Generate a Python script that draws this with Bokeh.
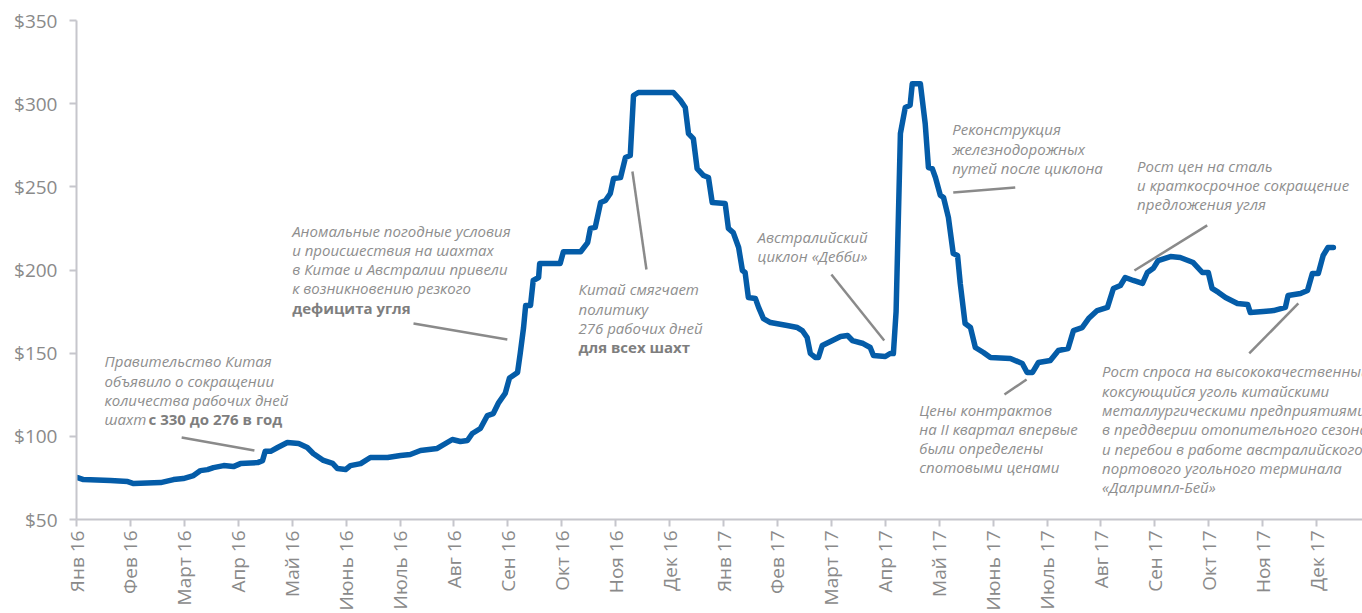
import math
from bokeh.plotting import figure
from bokeh.models import ColumnDataSource, Range1d, FixedTicker, NumeralTickFormatter
from bokeh.core.properties import value
from bokeh.embed import file_html
from bokeh.resources import INLINE

# Month tick labels (one per month, Jan 2016 .. Dec 2017)
month_labels = [
    "Янв 16", "Фев 16", "Март 16", "Апр 16", "Май 16", "Июнь 16",
    "Июль 16", "Авг 16", "Сен 16", "Окт 16", "Ноя 16", "Дек 16",
    "Янв 17", "Фев 17", "Март 17", "Апр 17", "Май 17", "Июнь 17",
    "Июль 17", "Авг 17", "Сен 17", "Окт 17", "Ноя 17", "Дек 17",
]

# Time in months since the start of January 2016
month_pos = [
    0.02, 0.13, 0.63, 0.95, 1.06, 1.56, 1.80, 1.98, 2.17, 2.30, 2.43, 2.54,
    2.73, 2.91, 3.04, 3.36, 3.45, 3.50, 3.60, 3.73, 3.91, 4.12, 4.28, 4.39,
    4.58, 4.75, 4.84, 4.99, 5.08, 5.27, 5.45, 5.77, 6.01, 6.19, 6.38, 6.69,
    6.97, 7.12, 7.25, 7.34, 7.49, 7.62, 7.73, 7.83, 7.95, 8.03, 8.18, 8.23,
    8.29, 8.33, 8.42, 8.47, 8.57, 8.59, 8.97, 9.03, 9.35, 9.48, 9.53, 9.62,
    9.72, 9.81, 9.90, 9.96, 10.09, 10.18, 10.27, 10.33, 10.42, 11.07, 11.20,
    11.29, 11.35, 11.44, 11.51, 11.63, 11.72, 11.79, 12.03, 12.09, 12.18,
    12.28, 12.35, 12.40, 12.46, 12.59, 12.65, 12.74, 12.87, 13.18, 13.37,
    13.46, 13.55, 13.61, 13.70, 13.76, 13.83, 14.02, 14.17, 14.30, 14.39,
    14.59, 14.72, 14.78, 15.00, 15.09, 15.15, 15.20, 15.28, 15.37, 15.46,
    15.50, 15.65, 15.74, 15.80, 15.87, 15.93, 16.02, 16.08, 16.17, 16.26,
    16.34, 16.39, 16.48, 16.58, 16.67, 16.82, 16.95, 17.32, 17.54, 17.63,
    17.73, 17.84, 18.06, 18.21, 18.39, 18.49, 18.65, 18.77, 18.93, 19.12,
    19.23, 19.36, 19.45, 19.60, 19.77, 19.86, 19.97, 20.06, 20.29, 20.47,
    20.71, 20.88, 20.99, 21.06, 21.18, 21.31, 21.53, 21.72, 21.77, 22.01,
    22.20, 22.42, 22.47, 22.70, 22.83, 22.92, 23.03, 23.12, 23.21, 23.31,
]

# Coking coal spot price, USD per tonne
price = [
    75.2, 74.0, 73.4, 72.8, 71.6, 72.2, 74.0, 74.6, 76.4, 79.4, 80.0, 81.2,
    82.4, 81.8, 83.6, 84.2, 85.4, 91.0, 91.0, 93.3, 96.3, 95.7, 93.3, 89.7,
    85.5, 83.7, 80.6, 80.0, 82.4, 83.6, 87.3, 87.3, 88.5, 89.1, 91.5, 92.7,
    98.1, 96.9, 97.5, 101.7, 104.7, 112.5, 113.7, 120.3, 125.8, 135.0, 138.4, 150.0,
    165.0, 178.7, 178.7, 193.7, 195.5, 203.9, 203.9, 211.0, 211.0, 216.5, 225.0, 225.6,
    240.6, 241.8, 246.0, 255.0, 255.6, 267.6, 268.8, 304.9, 306.7, 306.7, 302.0,
    297.7, 282.0, 279.0, 261.0, 256.8, 255.6, 240.6, 240.0, 225.0, 222.5,
    213.5, 199.7, 198.5, 183.5, 182.9, 177.5, 170.8, 168.4, 166.6, 165.4,
    163.6, 159.4, 149.8, 147.4, 147.4, 154.6, 157.6, 160.0, 160.6, 157.6,
    155.8, 153.4, 148.6, 148.0, 149.8, 149.8, 175.0, 282.0, 297.7, 299.0,
    312.0, 312.0, 288.0, 261.6, 261.0, 255.6, 245.0, 243.6, 231.6, 209.9,
    208.7, 191.9, 167.8, 165.4, 153.4, 150.4, 147.4, 146.8, 143.8, 138.4,
    138.4, 144.4, 145.6, 151.6, 152.8, 163.6, 165.4, 170.8, 175.6, 177.5,
    188.9, 190.7, 195.5, 193.7, 191.9, 198.5, 201.0, 205.7, 208.1, 207.5,
    204.5, 198.5, 198.5, 188.9, 186.5, 183.5, 179.9, 179.3, 174.4, 175.0,
    175.6, 177.5, 184.7, 185.9, 187.7, 197.9, 197.9, 208.7, 213.5, 213.5,
]

y_ticks = [50, 100, 150, 200, 250, 300, 350]

# Callout texts: anchor (month, price) of the first line, italic lines, bold runs
notes = [
    dict(x=0.52, y=145.0,
         lines=["Правительство Китая", "объявило о сокращении",
                "количества рабочих дней", "шахт"],
         bold=[(3, "с 330 до 276 в год", 44)]),
    dict(x=4.0, y=223.7,
         lines=["Аномальные погодные условия", "и происшествия на шахтах",
                "в Китае и Австралии привели", "к возникновению резкого"],
         bold=[(4, "дефицита угля", 0)]),
    dict(x=9.31, y=188.3,
         lines=["Китай смягчает", "политику", "276 рабочих дней"],
         bold=[(3, "для всех шахт", 0)]),
    dict(x=12.63, y=220.1,
         lines=["Австралийский", "циклон «Дебби»"], bold=[]),
    dict(x=16.24, y=284.5,
         lines=["Реконструкция", "железнодорожных", "путей после циклона"],
         bold=[]),
    dict(x=19.67, y=262.8,
         lines=["Рост цен на сталь", "и краткосрочное сокращение",
                "предложения угля"], bold=[]),
    dict(x=15.63, y=116.1,
         lines=["Цены контрактов", "на II квартал впервые",
                "были определены", "спотовыми ценами"], bold=[]),
    dict(x=19.02, y=139.0,
         lines=["Рост спроса на высококачественный",
                "коксующийся уголь китайскими",
                "металлургическими предприятиями",
                "в преддверии отопительного сезона",
                "и перебои в работе австралийского",
                "портового угольного терминала",
                "«Далримпл-Бей»"], bold=[]),
]

# Leader lines from callouts to the curve: (x0, y0, x1, y1)
leader_x0 = [1.95, 6.25, 10.31, 14.00, 16.26, 19.62, 17.21, 21.75]
leader_y0 = [99.3, 167.8, 259.2, 197.3, 246.6, 199.7, 125.1, 149.8]
leader_x1 = [3.30, 7.99, 10.57, 14.98, 17.41, 20.97, 17.62, 22.66]
leader_y1 = [91.5, 158.2, 200.3, 157.6, 249.6, 226.8, 134.2, 179.9]

FONT = "Open Sans"
AXIS_GREY = "#c6c6cc"
LABEL_GREY = "#8a8a8a"
NOTE_GREY = "#8e8e8e"
BOLD_GREY = "#7e7e7e"
LINE_BLUE = "#045ca8"
LINE_STEP = 19.3

p = figure(
    width=1362, height=613,
    x_range=Range1d(0, 23.85), y_range=Range1d(50, 350),
    output_backend="svg", toolbar_location=None,
    min_border_left=76, min_border_right=0,
    min_border_top=20, min_border_bottom=94,
)
p.outline_line_color = None
p.xgrid.visible = False
p.ygrid.visible = False
p.background_fill_color = "white"
p.border_fill_color = "white"

# Axes
p.yaxis.ticker = FixedTicker(ticks=y_ticks)
p.yaxis.formatter = NumeralTickFormatter(format="$0")
p.xaxis.ticker = FixedTicker(ticks=list(range(len(month_labels))))
p.xaxis.major_label_overrides = {i: lab for i, lab in enumerate(month_labels)}
p.xaxis.major_label_orientation = math.pi / 2
for ax in (p.xaxis, p.yaxis):
    ax.axis_line_color = AXIS_GREY
    ax.axis_line_width = 2
    ax.major_tick_line_color = AXIS_GREY
    ax.major_tick_line_width = 2
    ax.major_tick_out = 7
    ax.major_tick_in = 0
    ax.minor_tick_line_color = None
    ax.major_label_text_font = FONT
    ax.major_label_text_font_size = "19px"
    ax.major_label_text_color = LABEL_GREY
p.yaxis.major_label_standoff = 12
p.xaxis.major_label_standoff = 4

# Leader lines
p.segment(x0=leader_x0, y0=leader_y0, x1=leader_x1, y1=leader_y1,
          line_color="#8a8a8a", line_width=2.5)

# Price curve
p.line(month_pos, price, line_color=LINE_BLUE, line_width=5.5,
       line_join="round", line_cap="round")

# Callout texts
for n in notes:
    k = len(n["lines"])
    src = ColumnDataSource(dict(
        x=[n["x"]] * k, y=[n["y"]] * k, text=n["lines"],
        dy=[i * LINE_STEP for i in range(k)],
    ))
    p.text(x="x", y="y", text="text", y_offset="dy", source=src,
           text_font=value(FONT), text_font_style="italic",
           text_font_size="15px", text_color=NOTE_GREY,
           text_baseline="middle", text_align="left")
    for idx, txt, dx in n["bold"]:
        p.text(x=[n["x"]], y=[n["y"]], text=[txt],
               x_offset=dx, y_offset=idx * LINE_STEP,
               text_font=value(FONT), text_font_style="bold",
               text_font_size="15px", text_color=BOLD_GREY,
               text_baseline="middle", text_align="left")

open("out.html", "w").write(file_html(p, INLINE))
